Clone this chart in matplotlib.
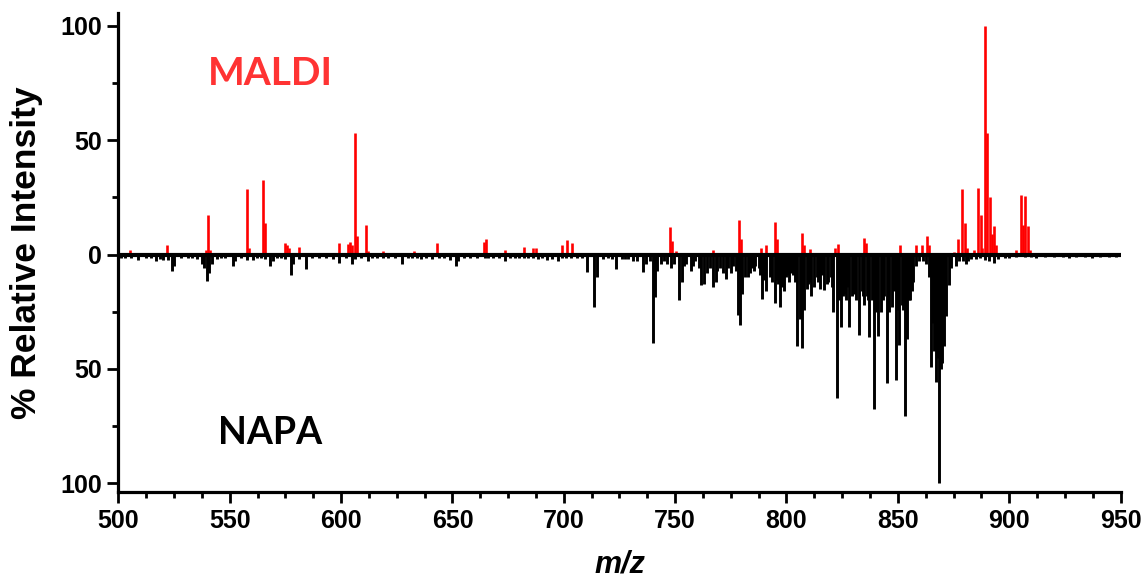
import matplotlib
matplotlib.use("Agg")
import matplotlib.pyplot as plt
from matplotlib.ticker import MultipleLocator, FuncFormatter

# ---- data (m/z, % relative intensity) ----
maldi_mz = [505, 522, 539.3, 540, 541, 557.7, 558.7, 564.8, 565.8, 574.8, 575.8, 576.8,
            581, 599, 603, 604, 605, 606.3, 607.2, 611, 612, 619, 632.7, 643, 664, 665,
            673.5, 682, 686, 687.5, 699.3, 701.5, 703.5, 747.7, 748.7, 750.5, 766.8,
            778.6, 779.6, 788.6, 790.7, 794.8, 795.8, 806.9, 808, 810.7, 821.8, 823.3,
            834.7, 835.7, 851, 858, 861, 863.1, 864.2, 875.2, 877, 879, 880.3, 881.2,
            884.3, 886.1, 887.2, 888, 889.1, 890, 891.2, 892.2, 893.3, 894.2, 903.2,
            905.1, 906.2, 907.2, 908.3, 909.5]
maldi_int = [2, 4, 2, 17.5, 2, 28.5, 3, 32.5, 14, 5, 4, 3,
             3.5, 5, 4.5, 5.5, 4, 53, 8, 13, 1.5, 1.5, 1.5, 5, 5.5, 6.8,
             2, 3.5, 3, 3, 4, 6.5, 5, 12, 6, 1.5, 2,
             15, 7, 3, 4, 14.3, 7, 9.5, 4, 2.5, 3, 4.5,
             7.3, 5, 4, 4, 4, 8, 4, 1, 7, 28.5, 13.8, 3,
             2, 29, 17.5, 3, 100, 53, 25, 9, 12.3, 4, 2,
             26, 13, 25.6, 12.6, 2]

napa_mz = [501, 503, 505.5, 508.9, 512.3, 514.5, 516.8, 518.6, 519.8, 522.4, 524.2, 525,
           528, 531, 533, 535.1, 537.4, 538.4, 539.9, 540.8, 541.8, 544.1, 546, 548,
           551.3, 552.3, 555, 557.6, 560.3, 562, 564, 566, 568, 569.2, 571, 573, 575,
           577.3, 578.5, 581, 584.2, 587, 590, 593, 596.5, 599, 602, 605, 606.2, 609,
           611.9, 614, 616, 619, 621.2, 624, 627.4, 630, 632, 634, 636, 638, 640.6, 644,
           646, 648.8, 651.5, 652.6, 655, 658, 661, 664.6, 666, 668, 671, 673.6, 676,
           678, 680, 682, 684, 686, 688.5, 690, 692.3, 694.5, 697.5, 699, 701, 703,
           705.7, 708, 710.2, 713.5, 714.7, 717.7, 720, 721.5, 723.4, 726, 727.5, 729,
           731, 733, 735.7, 737, 738.5,
           740, 741, 742, 743.5, 745, 746.5, 748.3, 749.5, 751.7, 753, 754, 755, 757,
           758, 759, 760.5, 761.8, 763, 764.5, 765.5,
           767, 768.2, 769, 770, 771.5, 772.7, 773.8, 775, 776, 777.2, 778.3, 778.9,
           780.2, 781.5, 782.5, 783.5, 784.7, 785.5,
           786, 787.5, 788.3, 789.2, 790, 791, 792.5, 793.5, 794.9, 795.5, 796, 797.2,
           798, 799, 800, 800.5,
           801, 802, 803, 803.8, 804.7, 805.9, 806.8, 807.9, 809, 809.5, 810, 811, 812.5,
           813.5, 814,
           815, 816, 817, 818, 818.8, 819.8, 820.4, 821, 822.9, 823.7, 824.5, 825.5,
           826.1, 826.7,
           827.5, 828.2, 829.2, 830.2, 830.7, 831.2, 832.7, 833.8, 834.4, 835, 836,
           836.6, 837.2, 838.2,
           839.2, 839.7, 840.1, 841, 842.5, 843.2, 844, 845, 845.6, 846.2, 847.4, 848.2,
           849, 850, 850.7,
           851.8, 852.4, 853, 854.2, 855, 855.5, 856.2, 857, 858, 859.7, 861.2, 862.5,
           864, 865, 865.6, 866.2,
           867.2, 868, 868.7, 869.3, 869.8, 870.8, 871.8, 873, 874, 876.3, 877.5,
           879.2, 880.5,
           881.4, 883, 885, 887, 889, 891, 893, 895, 898, 900, 903, 907, 910, 912,
           916, 920, 924, 927, 930, 934, 937, 941, 945, 948]
napa_int = [1.5, 1.5, 1.5, 2.5, 1.5, 1.5, 3, 2, 2.5, 2.5, 7, 5,
            1.5, 1.5, 1.5, 2, 4, 6, 11.5, 8, 4, 2, 1.5, 1.5,
            5, 3, 1.5, 2.5, 2.5, 1.5, 1.5, 2, 5, 3, 1.5, 1.5, 2,
            8.7, 4, 2, 6.3, 1.5, 1.5, 1.5, 2, 3.5, 1.5, 4, 2, 1.5,
            3, 1.5, 1.5, 1.5, 1.5, 1.5, 4, 1.5, 1.5, 1.5, 2, 1.5, 2, 1.5,
            1.5, 2.5, 5, 3, 1.5, 1.5, 1.5, 1.5, 1.5, 1.5, 1.5, 3, 1.5,
            1.5, 1.5, 1.5, 1.5, 1.5, 2, 1.5, 2.5, 2, 3, 1.5, 1.5, 1.5,
            1.5, 1.5, 7.5, 23, 10, 2, 1.5, 2, 6.5, 2, 2, 2,
            3, 3, 7.5, 4, 3,
            38.8, 18.5, 7, 4, 3, 4, 6, 4, 19.7, 12, 5, 4, 7,
            5, 3, 6, 13.5, 13, 8, 6,
            14, 12, 7, 6, 8, 10.5, 6, 8, 5, 7, 26.5, 30.8,
            17, 10, 10, 8, 6, 7,
            5, 6, 9, 19.3, 11, 15.7, 10, 12, 21, 11, 13, 22.9,
            14, 16, 10, 9,
            12, 8, 9, 12, 40, 28, 41, 24, 15, 13, 12, 18, 14,
            10, 12,
            15, 9, 15.6, 13, 12, 10, 14, 25, 62.7, 20, 31.5, 18,
            17, 20,
            14, 31.5, 18, 17, 16, 20, 35, 16, 18, 22, 18,
            20, 36, 20,
            67.5, 22, 25, 35.5, 25, 20, 18, 56, 22, 25, 23, 16,
            54.7, 24, 39.5,
            22, 24, 70.4, 37, 20, 20, 16, 12, 5, 3, 3, 4,
            10, 49, 30, 42,
            55.5, 45, 100, 50, 47.5, 40, 27, 13.5, 6, 5, 3,
            3, 4,
            3, 2, 2, 1.5, 2.5, 3, 3.5, 2, 1.5, 1.5, 1, 1, 1, 1.5,
            1, 1, 1, 1.5, 1, 1, 1.5, 1, 1, 1]

x_ticks = [500, 550, 600, 650, 700, 750, 800, 850, 900, 950]
y_ticks = [-100, -50, 0, 50, 100]

plt.rcParams['font.family'] = ['Liberation Sans', 'DejaVu Sans']

fig = plt.figure(figsize=(11.47, 5.83), dpi=100)
ax = fig.add_axes([0.1033, 0.1556, 0.8736, 0.8216])

ax.vlines(maldi_mz, 0, maldi_int, color='#ff0000', lw=1.9, zorder=2)
ax.vlines(napa_mz, 0, [-v for v in napa_int], color='black', lw=2.1, zorder=2)
ax.axhline(0, color='black', lw=3.0, zorder=3)

ax.set_xlim(500, 950)
ax.set_ylim(-103.9, 105.5)

for s in ['top', 'right']:
    ax.spines[s].set_visible(False)
for s in ['left', 'bottom']:
    ax.spines[s].set_linewidth(2.3)

ax.set_xticks(x_ticks)
ax.set_yticks(y_ticks)
ax.xaxis.set_minor_locator(MultipleLocator(12.5))
ax.yaxis.set_minor_locator(MultipleLocator(25))
ax.yaxis.set_major_formatter(FuncFormatter(lambda v, p: f"{abs(int(v))}"))
ax.tick_params(which='major', direction='out', length=8, width=2, pad=4,
               labelsize=18)
ax.tick_params(which='minor', direction='out', length=4, width=2)
for lab in ax.get_xticklabels() + ax.get_yticklabels():
    lab.set_fontweight('bold')

ax.set_ylabel('% Relative Intensity', fontsize=25.5, fontweight='bold', labelpad=12)
ax.set_xlabel('m/z', fontsize=22, fontweight='bold', fontstyle='italic', labelpad=12)

ax.text(540, 79, 'MALDI', color='#ff3333', fontsize=28, fontweight='bold',
        family=['Lato', 'DejaVu Sans'], ha='left', va='center')
ax.text(544.5, -78, 'NAPA', color='black', fontsize=27, fontweight='bold',
        family=['Lato', 'DejaVu Sans'], ha='left', va='center')

fig.savefig('out.png', dpi=100, facecolor='white')
